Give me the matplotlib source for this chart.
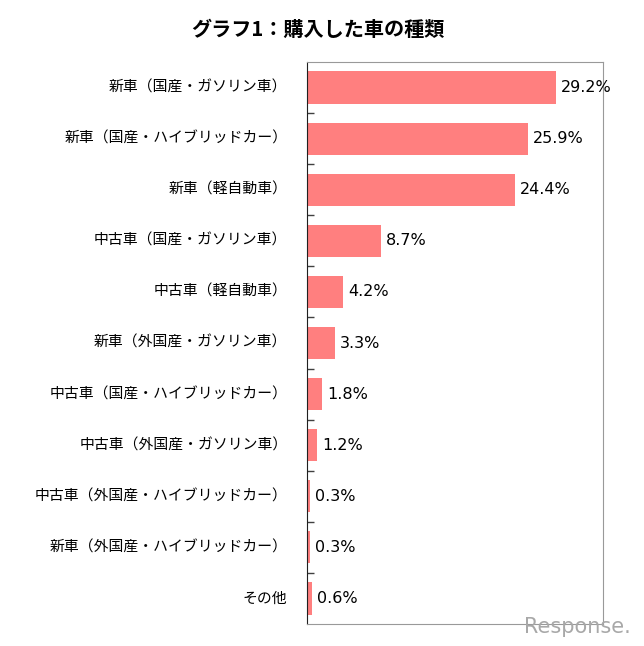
import matplotlib
matplotlib.use('Agg')
import matplotlib.pyplot as plt

plt.rcParams['font.family'] = ['Noto Sans CJK JP', 'DejaVu Sans']

categories = ['新車（国産・ガソリン車）', '新車（国産・ハイブリッドカー）', '新車（軽自動車）',
              '中古車（国産・ガソリン車）', '中古車（軽自動車）', '新車（外国産・ガソリン車）',
              '中古車（国産・ハイブリッドカー）', '中古車（外国産・ガソリン車）',
              '中古車（外国産・ハイブリッドカー）', '新車（外国産・ハイブリッドカー）', 'その他']
values = [29.2, 25.9, 24.4, 8.7, 4.2, 3.3, 1.8, 1.2, 0.3, 0.3, 0.6]
title = 'グラフ1：購入した車の種類'

fig = plt.figure(figsize=(6.44, 6.46), dpi=100)
ax = fig.add_axes([307 / 644, 1 - 624 / 646, 296 / 644, 562 / 646])

y = list(range(len(categories)))
ax.barh(y, values, height=0.63, color='#FF7F7F', zorder=2)
ax.set_ylim(len(categories) - 0.5, -0.5)
ax.set_xlim(0, 34.7)

for yi, v in zip(y, values):
    ax.text(v + 0.6, yi, f'{v:.1f}%', va='center', ha='left', fontsize=11.5,
            family='DejaVu Sans', clip_on=False)

for yi, c in zip(y, categories):
    ax.text(-2.3, yi, c, va='center', ha='right', fontsize=10.7)

ax.set_yticks([i + 0.5 for i in range(len(categories) - 1)])
ax.set_yticklabels([])
ax.tick_params(axis='y', direction='in', length=5, color='#404040', width=1)
ax.set_xticks([])

for side in ['top', 'right', 'bottom']:
    ax.spines[side].set_color('#999999')
ax.spines['left'].set_color('#202020')

fig.text(318 / 644, 1 - 29 / 646, title, ha='center', va='center', fontsize=14.5, fontweight='bold')
fig.text(577 / 644, 1 - 627 / 646, 'Response.', ha='center', va='center', fontsize=15,
         color='#a8a8a8', family='DejaVu Sans')

fig.savefig('out.png', dpi=100)
